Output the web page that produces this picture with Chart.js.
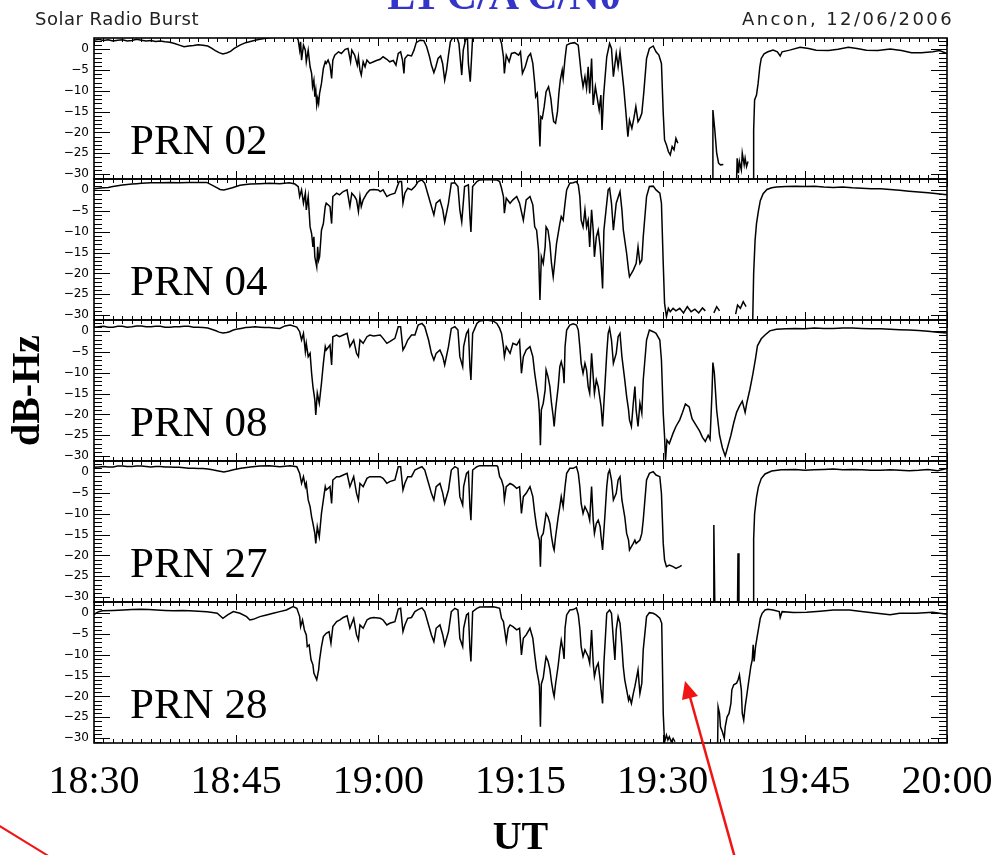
<!DOCTYPE html>
<html><head><meta charset="utf-8">
<script src="https://cdn.jsdelivr.net/npm/chart.js@4.4.1/dist/chart.umd.min.js"></script>
<style>
html,body{margin:0;padding:0;background:#fff;}
#wrap{position:relative;width:1003px;height:855px;overflow:hidden;background:#fff;}
#c{position:absolute;left:0;top:0;}
.hdr{position:absolute;font-family:"DejaVu Sans";font-size:18px;line-height:18px;color:#222;white-space:nowrap;}
#ttl{position:absolute;left:0;top:-26px;width:1008px;text-align:center;font:bold 42px/42px "Liberation Serif";color:#3434c8;white-space:nowrap;}
svg{position:absolute;left:0;top:0;}
</style></head>
<body>
<div id="wrap">
<canvas id="c" width="1003" height="855"></canvas>
<div id="ttl">L1 C/A C/N0</div>
<div class="hdr" style="left:35px;top:10px;letter-spacing:0.5px;">Solar Radio Burst</div>
<div class="hdr" style="right:49px;top:10px;letter-spacing:2.4px;">Ancon, 12/06/2006</div>
<svg width="1003" height="855">
<line x1="735" y1="858" x2="690" y2="697" stroke="#f01414" stroke-width="2.5"/>
<polygon points="685,681 682,700 698,696" fill="#f01414"/>
<line x1="-2" y1="825" x2="50" y2="857" stroke="#f01414" stroke-width="2"/>
</svg>
</div>
<script>
// ---- data (time in minutes after 18:30 UT, C/N0 change in dB-Hz) ----
const xTickValues = [0, 15, 30, 45, 60, 75, 90];
const xTickLabels = ['18:30', '18:45', '19:00', '19:15', '19:30', '19:45', '20:00'];
const yTickValues = [0, -5, -10, -15, -20, -25, -30];
const yTickLabels = ['0', '\u22125', '\u221210', '\u221215', '\u221220', '\u221225', '\u221230'];
const prnNames = ['PRN 02', 'PRN 04', 'PRN 08', 'PRN 27', 'PRN 28'];

const prn02 = [[0,2.2],[0.5,2.4],[1,2.1],[1.5,2.3],[2,2.0],[2.5,2.2],[3,2.3],[3.5,2.0],[4,2.1],[4.5,2.4],[5,2.2],[5.5,2.0],[6,2.1],[6.5,1.9],[7,2.0],[7.5,1.8],[8,1.7],[8.5,1.4],[9,1.0],[9.5,0.6],[10,0.8],[10.5,0.9],[11,1.1],[11.5,1.0],[12,0.8],[12.4,0.3],[12.8,-0.3],[13.2,-0.8],[13.6,-1.1],[14.0,-0.9],[14.4,-0.5],[14.8,0.2],[15.4,1.0],[16,1.6],[16.5,1.9],[17,2.2],[17.5,2.4],[18,2.6],[18.5,2.8],[19,2.9],[21.4,2.9],
[21.55,2.2],[21.7,-0.2],[21.8,1.8],[21.9,-2.6],[22.1,1.0],[22.3,-0.2],[22.4,-3.0],[22.6,-0.2],[22.8,-4.2],[22.96,-5.8],[23.06,-9.0],[23.2,-7.4],[23.3,-11.4],[23.4,-9.8],[23.5,-13.4],[23.6,-11.8],[23.7,-13.0],[23.8,-10.6],[24.0,-8.2],[24.2,-4.6],[24.4,-3.0],[24.5,-3.4],[24.7,-2.6],[24.9,-3.8],[25.07,-7.0],[25.2,-2.6],[25.4,-1.4],[25.8,-0.6],[26.1,-1.0],[26.5,0.0],[26.8,0.2],[27.07,-3.0],[27.2,-0.2],[27.5,-1.4],[27.78,-3.8],[27.9,-1.8],[28.06,-5.0],[28.2,-6.2],[28.4,-3.0],[28.6,-4.2],[28.8,-2.6],[29.1,-3.4],[29.5,-3.0],[29.8,-2.7],[30.2,-2.4],[30.5,-1.8],[30.9,-2.4],[31.2,-3.0],[31.58,-2.7],[31.86,-3.8],[32.1,-1.0],[32.35,-0.6],[32.55,-2.6],[32.7,-5.8],[32.8,-2.2],[33.1,-1.4],[33.5,-1.6],[33.76,-0.2],[34.0,1.6],[34.4,2.2],[34.8,2.1],[35.1,0.6],[35.4,-1.8],[35.6,-3.8],[35.86,-5.6],[36.07,-4.2],[36.3,-2.2],[36.57,-1.6],[36.78,-3.4],[37.0,-7.4],[37.2,-5.0],[37.4,-1.4],[37.6,1.8],[37.8,2.6],[38.0,2.9],[38.3,2.9],[38.5,1.4],[38.8,-6.2],[38.96,-0.2],[39.2,2.2],[39.4,2.9],[39.5,-3.4],[39.7,-7.8],[39.95,2.9],[42.8,2.9],[43.0,1.4],[43.2,-1.8],[43.3,-5.8],[43.5,-1.4],[43.8,-3.0],[44.05,-1.0],[44.4,-0.8],[44.8,-1.4],[45.0,-0.6],[45.2,-5.8],[45.5,-4.2],[45.8,-1.8],[46.06,-1.0],[46.3,-3.4],[46.5,-8.2],[46.6,-11.4],[46.77,-10.6],[46.9,-15.4],[47.05,-23.4],[47.15,-16.2],[47.3,-16.6],[47.5,-13.8],[47.7,-10.2],[47.96,-9.0],[48.2,-11.8],[48.35,-15.0],[48.5,-17.4],[48.7,-17.8],[48.9,-15.0],[49.05,-10.6],[49.2,-7.4],[49.4,-5.0],[49.5,-7.0],[49.7,-2.2],[49.87,1.0],[50.2,1.4],[50.7,1.6],[51.09,1.0],[51.26,-2.6],[51.4,-5.8],[51.6,-9.0],[51.8,-6.6],[51.97,-9.4],[52.14,-4.2],[52.3,-10.6],[52.5,-2.2],[52.67,-13.4],[52.9,-9.0],[53.1,-11.8],[53.3,-14.6],[53.48,-11.0],[53.6,-19.4],[53.76,-11.4],[53.9,-7.4],[54.1,-1.8],[54.4,1.4],[54.6,0.2],[54.8,-6.6],[55.1,-1.0],[55.3,-4.2],[55.5,-0.6],[55.7,-5.0],[55.9,-9.4],[56.1,-14.6],[56.33,-21.0],[56.5,-17.0],[56.75,-19.0],[56.96,-16.6],[57.17,-13.8],[57.4,-17.4],[57.6,-16.6],[57.8,-15.4],[58.0,-10.6],[58.3,-2.2],[58.6,0.2],[59.0,0.8],[59.3,-0.6],[59.6,-1.4],[59.87,-3.4],[60.06,-15.4],[60.2,-21.8],[60.4,-23.0],[60.6,-24.6],[60.8,-25.4],[61.0,-23.4],[61.2,-24.2],[61.4,-21.4],[61.6,-22.6],[61.7,null],
[65.25,-31.5],[65.3,-14.6],[65.5,-19.4],[65.7,-25.0],[65.9,-27.4],[66.1,-27.8],[66.4,-27.7],[66.5,null],
[67.8,-31.5],[67.86,-26.2],[68.0,-29.8],[68.1,-27.0],[68.3,-29.0],[68.4,-25.0],[68.6,-27.8],[68.7,-26.2],[68.85,-28.2],[69.0,-27.0],[69.1,null],
[69.55,-31.5],[69.6,-19.4],[69.7,-12.2],[69.9,-11.0],[70.07,-8.2],[70.25,-4.2],[70.4,-2.2],[70.7,-1.1],[71.1,-0.6],[71.65,-0.2],[72.1,-0.6],[72.4,-1.6],[72.6,-0.6],[73.4,-0.2],[74.5,0.5],[75.4,0.2],[76.2,-0.2],[77.5,-0.3],[78.5,0.0],[79.6,0.5],[80.5,0.2],[81.5,-0.2],[82.7,-0.3],[84.0,0.1],[85.2,-0.3],[86.25,-0.8],[87.3,-0.8],[88.5,-0.6],[89.2,-0.3],[90,-1.0]];

const prn04 = [[0,0.4],[0.5,0.5],[1,0.6],[1.5,0.7],[2,0.9],[2.5,1.1],[3,1.3],[3.5,1.4],[4,1.5],[4.5,1.6],[5,1.7],[6,1.8],[7,1.8],[8,1.9],[9,1.8],[10,1.9],[11,1.9],[11.9,1.9],[12.5,1.2],[13.0,0.6],[13.3,0.2],[13.7,0.1],[14.1,0.3],[14.6,0.6],[15.4,1.2],[16,1.4],[16.5,1.5],[17.5,1.6],[18.5,1.7],[19.6,1.6],[20.6,1.8],[21.2,1.5],[21.55,0.9],[21.7,-1.5],[21.9,0.1],[22.1,-3.1],[22.3,-0.7],[22.4,-4.7],[22.6,-1.5],[22.8,-8.8],[22.96,-10.4],[23.1,-13.6],[23.2,-11.2],[23.3,-16.0],[23.5,-18.4],[23.6,-13.6],[23.7,-16.8],[23.8,-16.0],[24.0,-9.6],[24.2,-8.0],[24.4,-3.9],[24.5,-3.1],[24.9,-3.9],[25.07,-8.0],[25.2,-1.5],[25.6,-0.7],[25.9,-1.1],[26.3,-0.3],[26.7,0.1],[27.0,-3.9],[27.2,-0.7],[27.5,-1.5],[27.7,-2.3],[27.9,-5.1],[28.06,-1.5],[28.2,-3.9],[28.4,-2.3],[28.8,-0.7],[29.1,0.1],[29.5,0.2],[30.0,0.1],[30.2,-0.3],[30.5,0.1],[30.9,-1.5],[31.2,-1.1],[31.75,-0.7],[32.0,0.9],[32.2,2.1],[32.45,2.1],[32.6,-3.1],[32.8,-0.7],[33.1,0.5],[33.5,0.1],[33.86,0.9],[34.2,2.1],[34.6,2.5],[34.9,1.7],[35.3,-1.5],[35.6,-3.9],[35.86,-5.9],[36.1,-3.1],[36.5,-2.3],[36.8,-4.7],[37.0,-7.6],[37.4,-3.1],[37.7,1.7],[38.08,1.8],[38.4,0.9],[38.6,-4.7],[38.8,-7.6],[38.96,-3.1],[39.1,0.9],[39.5,1.3],[39.66,-6.3],[39.77,-10.0],[39.95,0.9],[40.4,2.1],[40.7,2.5],[41.5,2.6],[42.5,2.5],[42.8,2.1],[43.0,0.5],[43.2,-1.5],[43.3,-5.5],[43.5,-1.9],[43.9,-3.1],[44.2,-2.3],[44.6,-1.5],[44.9,-3.1],[45.3,-7.2],[45.6,-2.3],[46.0,-1.5],[46.3,-3.5],[46.5,-8.8],[46.7,-9.6],[46.9,-14.4],[47.05,-26.4],[47.2,-16.0],[47.4,-17.6],[47.6,-13.6],[47.7,-8.8],[47.9,-9.6],[48.1,-12.8],[48.27,-17.6],[48.45,-20.8],[48.6,-17.6],[48.8,-12.8],[49.15,-8.0],[49.3,-6.3],[49.5,-7.2],[49.7,-3.1],[49.87,0.1],[50.2,1.7],[50.56,1.8],[50.9,2.1],[51.1,1.3],[51.26,-1.5],[51.4,-7.2],[51.6,-8.8],[51.8,-4.7],[51.97,-8.8],[52.14,-7.2],[52.3,-13.6],[52.5,-4.7],[52.67,-9.6],[52.8,-16.0],[53.0,-11.2],[53.2,-9.6],[53.4,-13.6],[53.5,-16.8],[53.66,-23.6],[53.8,-9.6],[54.1,-3.1],[54.25,0.1],[54.4,0.5],[54.6,-3.1],[54.8,-9.6],[55.1,-3.1],[55.5,-0.3],[55.7,-4.7],[55.85,-9.6],[56.2,-15.2],[56.4,-19.2],[56.5,-20.8],[56.9,-19.2],[57.2,-17.6],[57.4,-13.6],[57.6,-17.6],[57.8,-16.8],[57.95,-11.2],[58.3,-1.5],[58.6,0.9],[59.0,1.0],[59.3,0.1],[59.7,-0.7],[59.87,-3.1],[60.06,-17.6],[60.2,-27.2],[60.4,-30.4],[60.6,-28.4],[60.8,-29.2],[61.1,-28.4],[61.4,-29.0],[61.8,-28.4],[62.2,-29.5],[62.6,-28.0],[63.0,-29.2],[63.4,-28.6],[63.8,-29.5],[64.2,-28.3],[64.5,-29.0],[64.6,null],
[65.4,-29.5],[65.7,-28.0],[66.0,-29.0],[66.1,null],
[67.7,-29.8],[67.9,-27.6],[68.2,-28.4],[68.5,-26.8],[68.8,-28.0],[68.9,null],
[69.5,-31.5],[69.6,-20.0],[69.75,-12.0],[69.9,-8.0],[70.1,-5.0],[70.3,-2.5],[70.6,-0.8],[71.0,0.2],[71.5,0.6],[72.0,0.8],[73.0,0.9],[74.0,1.0],[75.0,0.9],[76.0,1.0],[77.0,0.8],[78.0,0.7],[79.0,0.8],[80.0,0.6],[81.0,0.5],[82.0,0.4],[83.0,0.4],[84.0,0.2],[85.0,0.0],[86.0,-0.2],[87.0,-0.4],[88.0,-0.6],[89.0,-0.8],[90.0,-1.1]];

const prn08 = [[0,1.0],[0.5,1.1],[1,1.2],[1.5,1.0],[2,1.0],[2.5,1.2],[3,1.2],[3.5,1.0],[4,1.1],[4.5,1.3],[5,1.3],[5.5,1.1],[6,1.1],[6.5,1.2],[7,1.2],[7.5,1.0],[8,1.0],[8.5,1.1],[9,1.1],[9.5,1.2],[10,1.2],[10.5,1.0],[11,1.0],[11.5,0.9],[12,0.8],[12.4,0.5],[12.8,0.2],[13.2,-0.2],[13.6,-0.4],[14.0,-0.3],[14.3,-0.1],[14.7,0.3],[15,0.5],[15.5,0.7],[16,0.9],[16.5,1.0],[17,1.1],[17.5,1.0],[18,0.9],[18.5,0.9],[19,0.8],[19.6,0.7],[20.15,1.3],[20.7,1.5],[21.4,1.0],[21.7,-0.1],[21.9,-2.1],[22.1,-0.5],[22.3,-4.9],[22.4,-2.9],[22.6,-6.1],[22.8,-5.3],[22.96,-10.1],[23.1,-13.3],[23.3,-16.5],[23.4,-20.1],[23.56,-14.9],[23.77,-17.3],[24.0,-12.5],[24.2,-7.7],[24.4,-3.7],[24.5,-4.5],[24.9,-3.3],[25.07,-8.1],[25.2,-1.3],[25.6,-0.9],[25.9,-1.3],[26.3,-0.9],[26.7,-0.5],[27.0,-3.7],[27.4,-2.1],[27.7,-5.3],[27.9,-6.1],[28.06,-2.1],[28.4,-2.9],[28.8,-1.3],[29.1,-0.9],[29.5,-1.1],[30.2,-0.9],[30.5,-1.7],[30.9,-2.9],[31.2,-2.5],[31.75,-1.7],[32.1,1.1],[32.35,1.1],[32.6,-4.5],[32.8,-3.7],[33.1,-2.1],[33.5,-0.9],[33.86,-0.9],[34.2,1.5],[34.6,1.9],[34.9,1.1],[35.3,-2.1],[35.6,-5.3],[35.86,-6.9],[36.1,-5.3],[36.5,-4.5],[36.8,-6.1],[37.0,-8.1],[37.4,-3.7],[37.7,0.7],[38.08,1.1],[38.4,0.3],[38.6,-6.1],[38.9,-8.5],[39.0,-3.7],[39.3,-0.5],[39.5,0.3],[39.66,-8.5],[39.77,-11.7],[39.95,-0.5],[40.4,1.9],[40.7,2.5],[41.4,2.7],[42.1,2.5],[42.5,1.9],[42.8,0.7],[43.0,-0.5],[43.2,-3.7],[43.3,-6.1],[43.5,-3.7],[43.9,-5.3],[44.2,-2.9],[44.6,-3.3],[44.9,-2.1],[45.1,-10.1],[45.3,-6.1],[45.6,-4.5],[46.0,-3.7],[46.3,-6.1],[46.5,-10.1],[46.7,-13.3],[46.9,-16.5],[47.0,-19.7],[47.1,-27.4],[47.2,-18.9],[47.4,-17.3],[47.6,-14.1],[47.7,-9.3],[47.9,-10.9],[48.1,-13.3],[48.27,-17.3],[48.45,-20.5],[48.55,-22.9],[48.7,-18.9],[48.98,-13.3],[49.15,-8.5],[49.3,-7.3],[49.5,-9.3],[49.6,-12.5],[49.7,-3.7],[49.87,0.3],[50.2,1.5],[50.56,1.8],[50.9,1.5],[51.1,0.3],[51.26,-3.7],[51.4,-7.7],[51.6,-10.1],[51.8,-7.7],[51.97,-9.3],[52.14,-13.3],[52.3,-14.9],[52.5,-5.3],[52.67,-10.9],[52.8,-14.9],[53.0,-11.7],[53.2,-13.3],[53.4,-16.5],[53.5,-18.1],[53.66,-22.9],[53.9,-13.3],[54.1,-5.3],[54.25,-0.5],[54.4,0.7],[54.6,-2.1],[54.8,-7.7],[55.1,-5.3],[55.3,-1.3],[55.5,-0.5],[55.7,-6.1],[56.0,-11.7],[56.2,-15.7],[56.4,-18.9],[56.5,-21.3],[56.7,-22.9],[56.9,-17.3],[57.07,-13.3],[57.2,-18.9],[57.4,-22.9],[57.6,-17.3],[57.8,-19.7],[57.95,-11.7],[58.3,-2.1],[58.6,0.3],[59.0,-0.1],[59.3,-0.5],[59.7,-2.1],[59.87,-6.9],[60.06,-19.7],[60.2,-25.3],[60.3,-31.0],[60.45,-26.2],[60.7,-27.0],[61.1,-24.5],[61.4,-22.9],[61.8,-21.3],[62.1,-19.5],[62.4,-17.5],[62.8,-18.2],[63.1,-21.0],[63.5,-22.5],[63.9,-24.0],[64.2,-25.5],[64.5,-26.5],[64.8,-25.0],[65.0,-26.0],[65.2,-15.0],[65.3,-7.5],[65.45,-10.0],[65.7,-19.0],[66.0,-25.0],[66.3,-28.0],[66.6,-30.0],[66.9,-27.5],[67.2,-25.0],[67.5,-22.0],[67.8,-19.5],[68.1,-18.0],[68.4,-16.8],[68.7,-19.5],[68.9,-17.0],[69.2,-14.0],[69.5,-10.5],[69.8,-6.5],[70.0,-3.5],[70.4,-1.8],[70.8,-0.9],[71.3,0.1],[72,0.5],[73,0.6],[74,0.7],[75,0.6],[76,0.8],[77,0.7],[78,0.7],[79,0.8],[80,0.8],[81,0.7],[82,0.6],[83,0.6],[84,0.5],[85,0.4],[86,0.3],[87,0.2],[88,0.0],[89,-0.2],[90,-0.4]];

const prn27 = [[0,1.2],[0.5,1.3],[1,1.4],[1.5,1.3],[2,1.3],[2.5,1.5],[3,1.5],[3.5,1.4],[4,1.4],[4.5,1.5],[5,1.5],[5.5,1.4],[6,1.3],[6.5,1.4],[7,1.4],[7.5,1.3],[8,1.3],[8.5,1.2],[9,1.2],[9.5,1.1],[10,1.0],[10.5,1.0],[11,0.9],[11.5,0.9],[12,0.8],[12.5,0.6],[13,0.4],[13.7,0.1],[14.2,0.3],[14.7,0.6],[15.5,1.0],[16.5,1.3],[17.5,1.5],[18.5,1.6],[19.6,1.35],[20.7,1.6],[21.4,1.35],[21.7,-0.25],[21.9,-2.65],[22.1,-1.05],[22.3,-3.45],[22.4,-2.65],[22.6,-6.65],[22.8,-8.26],[22.96,-10.7],[23.1,-12.3],[23.3,-14.7],[23.4,-17.1],[23.56,-13.1],[23.77,-15.5],[24.0,-9.9],[24.2,-6.65],[24.4,-3.45],[24.5,-4.25],[24.9,-3.45],[25.07,-7.5],[25.2,-1.85],[25.6,-1.05],[25.9,-1.05],[26.3,-0.65],[26.7,-0.25],[27.0,-3.45],[27.4,-1.05],[27.7,-5.06],[27.9,-6.65],[28.06,-2.65],[28.4,-3.45],[28.8,-1.45],[29.1,-1.05],[29.5,-1.05],[30.2,-1.05],[30.5,-1.45],[30.9,-2.65],[31.2,-2.25],[31.75,-1.85],[32.1,1.35],[32.35,1.35],[32.6,-4.25],[32.8,-2.65],[33.1,-1.05],[33.5,-1.05],[33.86,0.55],[34.2,0.95],[34.6,1.35],[34.9,0.55],[35.3,-2.65],[35.6,-5.06],[35.86,-6.65],[36.1,-3.45],[36.5,-2.65],[36.8,-5.06],[37.0,-7.5],[37.4,-4.25],[37.7,0.55],[38.08,1.35],[38.4,0.95],[38.6,-5.86],[38.9,-7.86],[39.0,-3.45],[39.3,-0.25],[39.5,0.15],[39.66,-8.26],[39.77,-11.5],[39.95,0.55],[40.4,1.35],[40.7,1.6],[42.5,1.6],[42.6,1.35],[42.8,-1.05],[43.0,-1.85],[43.2,-3.45],[43.3,-6.65],[43.5,-3.45],[43.9,-2.65],[44.2,-3.05],[44.6,-3.85],[44.9,-3.45],[45.1,-9.9],[45.3,-5.86],[45.6,-5.06],[46.0,-3.45],[46.3,-5.86],[46.5,-9.9],[46.7,-13.1],[46.9,-15.5],[47.0,-16.3],[47.1,-22.7],[47.2,-15.5],[47.4,-14.7],[47.6,-11.5],[47.7,-9.9],[47.9,-10.7],[48.1,-12.3],[48.27,-15.5],[48.45,-17.9],[48.55,-18.7],[48.7,-15.5],[48.98,-10.7],[49.15,-8.26],[49.3,-5.86],[49.5,-8.26],[49.7,-3.45],[49.87,-0.25],[50.2,0.95],[50.56,0.95],[50.9,1.35],[51.1,-0.25],[51.26,-3.45],[51.4,-7.5],[51.6,-9.9],[51.8,-8.26],[51.97,-9.06],[52.14,-9.9],[52.3,-11.5],[52.5,-3.45],[52.67,-11.5],[52.8,-14.7],[53.0,-12.3],[53.2,-11.5],[53.4,-13.1],[53.5,-15.5],[53.66,-18.7],[53.9,-10.7],[54.1,-3.45],[54.25,-0.25],[54.4,0.55],[54.6,-1.85],[54.8,-6.65],[55.1,-5.06],[55.3,-1.85],[55.5,-1.05],[55.7,-6.65],[56.0,-10.7],[56.2,-14.7],[56.4,-16.3],[56.5,-18.7],[56.7,-17.9],[56.9,-17.1],[57.07,-16.3],[57.2,-17.1],[57.6,-16.3],[57.8,-14.7],[57.95,-11.5],[58.3,-1.85],[58.6,-0.25],[59.0,0.15],[59.3,-0.65],[59.7,-1.05],[59.87,-5.06],[60.06,-17.1],[60.2,-21.1],[60.4,-22.7],[60.7,-22.3],[61.1,-22.7],[61.4,-23.1],[61.8,-22.7],[62.0,-22.4],[62.1,null],
[65.35,-31.5],[65.4,-12.7],[65.5,-31.5],[65.6,null],
[67.9,-31.5],[67.95,-19.5],[68.05,-31.5],[68.1,null],
[69.55,-31.5],[69.6,-16.0],[69.7,-10.0],[69.9,-6.0],[70.1,-3.5],[70.4,-1.5],[70.8,-0.4],[71.5,0.3],[72.5,0.6],[74,0.7],[75,0.5],[76,0.6],[77,0.7],[78,0.8],[79,0.6],[80,0.7],[81,0.6],[82,0.5],[83,0.5],[84,0.6],[85,0.5],[86,0.4],[87,0.5],[88,0.7],[89,0.4],[90,0.9]];

const prn28 = [[0,-0.4],[0.17,0.0],[0.5,0.4],[0.9,0.6],[2,0.7],[3.1,0.8],[4,0.9],[4.9,1.0],[5.8,0.9],[6.6,0.8],[7.5,0.7],[8.4,0.6],[9.3,0.7],[10.1,0.6],[11,0.5],[11.9,0.4],[12.5,0.2],[13.0,0.0],[13.3,-0.6],[13.6,-1.2],[14.1,-0.4],[14.7,0.4],[15.4,0.0],[16.1,-0.8],[16.45,-1.6],[16.8,-1.45],[17.5,-0.8],[18.2,-0.4],[18.9,0.0],[19.6,0.4],[20.3,0.8],[21.0,1.6],[21.4,1.2],[21.7,-0.8],[21.8,-3.2],[22.0,-1.6],[22.2,-4.0],[22.4,-5.2],[22.5,-8.0],[22.7,-7.6],[22.9,-11.2],[23.1,-12.4],[23.2,-14.4],[23.5,-16.0],[23.7,-13.6],[23.8,-11.2],[24.0,-8.0],[24.2,-5.6],[24.5,-4.8],[24.8,-4.4],[25.0,-7.2],[25.2,-3.2],[25.6,-2.0],[25.95,-1.6],
[26.3,-1.0],[26.7,-0.6],[27.0,-3.6],[27.4,-1.2],[27.7,-5.2],[27.9,-6.4],[28.06,-2.8],[28.4,-3.6],[28.8,-1.6],[29.1,-1.2],[29.5,-1.0],[30.2,-1.2],[30.5,-1.6],[30.9,-2.8],[31.2,-2.4],[31.75,-2.0],[32.1,1.0],[32.35,1.2],[32.6,-4.4],[32.8,-2.8],[33.1,-1.2],[33.5,-1.0],[33.86,0.4],[34.2,0.9],[34.6,1.3],[34.9,0.4],[35.3,-2.8],[35.6,-5.2],[35.86,-6.8],[36.1,-3.6],[36.5,-2.8],[36.8,-5.2],[37.0,-7.6],[37.4,-4.4],[37.7,0.4],[38.08,1.2],[38.4,0.8],[38.6,-6.0],[38.9,-8.0],[39.0,-3.6],[39.3,-0.4],[39.5,0.0],[39.66,-8.4],[39.77,-11.6],[39.95,0.4],[40.4,1.2],[40.7,1.5],[42.1,1.6],[42.5,1.4],[42.8,1.2],[43.0,-1.2],[43.2,-2.0],[43.3,-3.6],[43.5,-6.8],[43.7,-3.6],[43.9,-2.8],[44.2,-3.2],[44.6,-4.0],[44.9,-3.6],[45.1,-10.0],[45.3,-6.0],[45.6,-5.2],[46.0,-3.6],[46.3,-6.0],[46.5,-10.0],[46.7,-13.6],[46.9,-16.0],[47.0,-17.6],[47.1,-27.3],[47.2,-17.0],[47.4,-15.5],[47.6,-12.0],[47.7,-10.5],[47.9,-11.5],[48.1,-13.5],[48.27,-16.5],[48.45,-19.0],[48.55,-20.0],[48.7,-17.0],[48.98,-12.5],[49.15,-9.0],[49.3,-6.5],[49.5,-9.0],[49.6,-11.0],[49.7,-3.6],[49.87,-0.4],[50.2,0.8],[50.56,0.9],[50.9,1.3],[51.1,-0.4],[51.26,-3.6],[51.4,-8.0],[51.6,-10.4],[51.8,-8.8],[51.97,-9.6],[52.14,-10.4],[52.3,-12.0],[52.5,-4.0],[52.67,-12.0],[52.8,-15.2],[53.0,-13.0],[53.2,-12.0],[53.4,-16.0],[53.5,-18.5],[53.66,-21.7],[53.8,-12.0],
[54.1,0.0],[54.4,0.8],[54.6,0.0],[54.8,-6.4],[54.96,-11.2],[55.1,-4.0],[55.3,-0.8],[55.5,-2.4],[55.7,-8.0],[55.84,-12.8],[56.0,-16.0],[56.2,-18.4],[56.4,-20.9],[56.5,-20.1],[56.7,-21.7],[56.9,-19.3],[57.07,-17.6],[57.2,-16.0],[57.4,-13.6],[57.6,-19.3],[57.8,-16.8],[57.95,-8.8],[58.3,-0.8],[58.6,0.16],[59.0,0.0],[59.3,-0.4],[59.7,-1.2],[59.9,-2.4],[60.06,-24.1],[60.2,-31.0],[60.4,-29.3],[60.55,-30.5],[60.7,-29.7],[60.9,-30.9],[61.1,-30.1],[61.3,-30.9],[61.4,null],
[65.8,-31.5],[65.85,-22.5],[66.0,-24.1],[66.1,-27.3],[66.3,-28.5],[66.5,-30.1],[66.6,-27.3],[66.8,-24.9],[67.0,-24.1],[67.2,-21.7],[67.3,-18.4],[67.5,-17.2],[67.8,-16.8],[67.96,-16.0],[68.1,-14.8],[68.3,-18.4],[68.4,-24.1],[68.55,-25.7],[68.7,-22.5],[68.9,-19.3],[69.1,-16.0],[69.3,-12.8],[69.45,-11.2],[69.55,-7.6],[69.65,-11.6],[69.8,-8.0],[69.97,-5.6],[70.15,-3.2],[70.3,-1.2],[70.5,0.0],[70.8,0.8],[71.1,0.97],[71.65,0.8],[72.3,0.4],[72.4,-1.0],[72.6,0.4],[73.8,0.2],[75.2,0.24],[76.6,0.5],[78.0,0.8],[79.7,0.8],[81.2,0.4],[82.6,0.0],[84.0,-0.33],[85.0,0.0],[86.8,0.0],[88.5,0.24],[90,-0.24]];

const prnSeries = [prn02, prn04, prn08, prn27, prn28];

// ---- chart ----
const Y_MIN = -31.2, Y_MAX = 2.72;
const toXY = arr => arr.map(p => ({x: p[0], y: p[1]}));

const scales = {
  x: {
    type: 'linear', position: 'bottom', min: 0, max: 90,
    grid: {display: false, drawTicks: false}, border: {display: false},
    afterBuildTicks: s => { s.ticks = xTickValues.map(v => ({value: v})); },
    afterFit: s => { s.height = 112; s.paddingLeft = 0; s.paddingRight = 0; },
    ticks: {
      autoSkip: false, maxRotation: 0, minRotation: 0, padding: 15, color: '#000',
      font: {family: 'Liberation Serif', size: 40},
      callback: (v, i) => xTickLabels[i]
    },
    title: {display: true, text: 'UT', color: '#000',
      font: {family: 'Liberation Serif', size: 40, weight: 'bold'},
      padding: {top: 0, bottom: -8}}
  }
};
// stacked left axes: Chart.js places the later-defined axis higher, so define bottom panel first
for (let i = prnNames.length - 1; i >= 0; i--) {
  scales['y' + i] = {
    type: 'linear', position: 'left', stack: 'panels', stackWeight: 1, offset: false,
    min: Y_MIN, max: Y_MAX,
    grid: {display: false, drawTicks: false}, border: {display: false},
    afterBuildTicks: s => { s.ticks = yTickValues.map(v => ({value: v})); },
    afterFit: s => { s.width = 94; s.paddingTop = 0; s.paddingBottom = 0; },
    ticks: {
      autoSkip: false, padding: 5, color: '#000',
      font: {family: 'DejaVu Sans', size: 12},
      callback: (v, k) => yTickLabels[k]
    },
    title: {display: i === 2, text: 'dB-Hz', color: '#000',
      font: {family: 'Liberation Serif', size: 40, weight: 'bold'},
      padding: {top: 5, bottom: 0}}
  };
}

const framePlugin = {
  id: 'frame',
  afterDatasetsDraw(chart) {
    const ctx = chart.ctx, xs = chart.scales.x;
    ctx.save();
    ctx.strokeStyle = '#000';
    prnNames.forEach((name, i) => {
      const ys = chart.scales['y' + i];
      const L = xs.left, R = xs.right, T = ys.top, B = ys.bottom;
      ctx.lineWidth = 1;
      ctx.beginPath();
      for (let v = Math.ceil(Y_MIN); v <= Math.floor(Y_MAX); v++) {
        const y = Math.round(ys.getPixelForValue(v)) + 0.5;
        const len = (v % 5 === 0) ? 16 : 8;
        ctx.moveTo(L, y); ctx.lineTo(L + len, y);
        ctx.moveTo(R, y); ctx.lineTo(R - len, y);
      }
      for (let m = 0; m <= 90; m++) {
        const x = Math.round(xs.getPixelForValue(m)) + 0.5;
        const len = (m % 15 === 0) ? 8 : 4;
        ctx.moveTo(x, T); ctx.lineTo(x, T + len);
        ctx.moveTo(x, B); ctx.lineTo(x, B - len);
      }
      ctx.stroke();
      ctx.lineWidth = 1.6;
      ctx.strokeRect(L, T, R - L, B - T);
      ctx.fillStyle = '#000';
      ctx.font = '43px "Liberation Serif"';
      ctx.textAlign = 'left';
      ctx.textBaseline = 'alphabetic';
      ctx.fillText(name, L + 36, ys.getPixelForValue(-25.3));
    });
    ctx.restore();
  }
};

new Chart(document.getElementById('c'), {
  type: 'line',
  data: {
    datasets: prnSeries.map((s, i) => ({
      label: prnNames[i], data: toXY(s), yAxisID: 'y' + i, xAxisID: 'x',
      borderColor: '#000', borderWidth: 1.5, pointRadius: 0, tension: 0,
      spanGaps: false, clip: 0, fill: false
    }))
  },
  options: {
    responsive: false, animation: false, devicePixelRatio: 1,
    layout: {padding: {top: 38, right: 56, left: 0, bottom: 0}},
    plugins: {legend: {display: false}, tooltip: {enabled: false}},
    scales
  },
  plugins: [framePlugin]
});
</script>
</body></html>
